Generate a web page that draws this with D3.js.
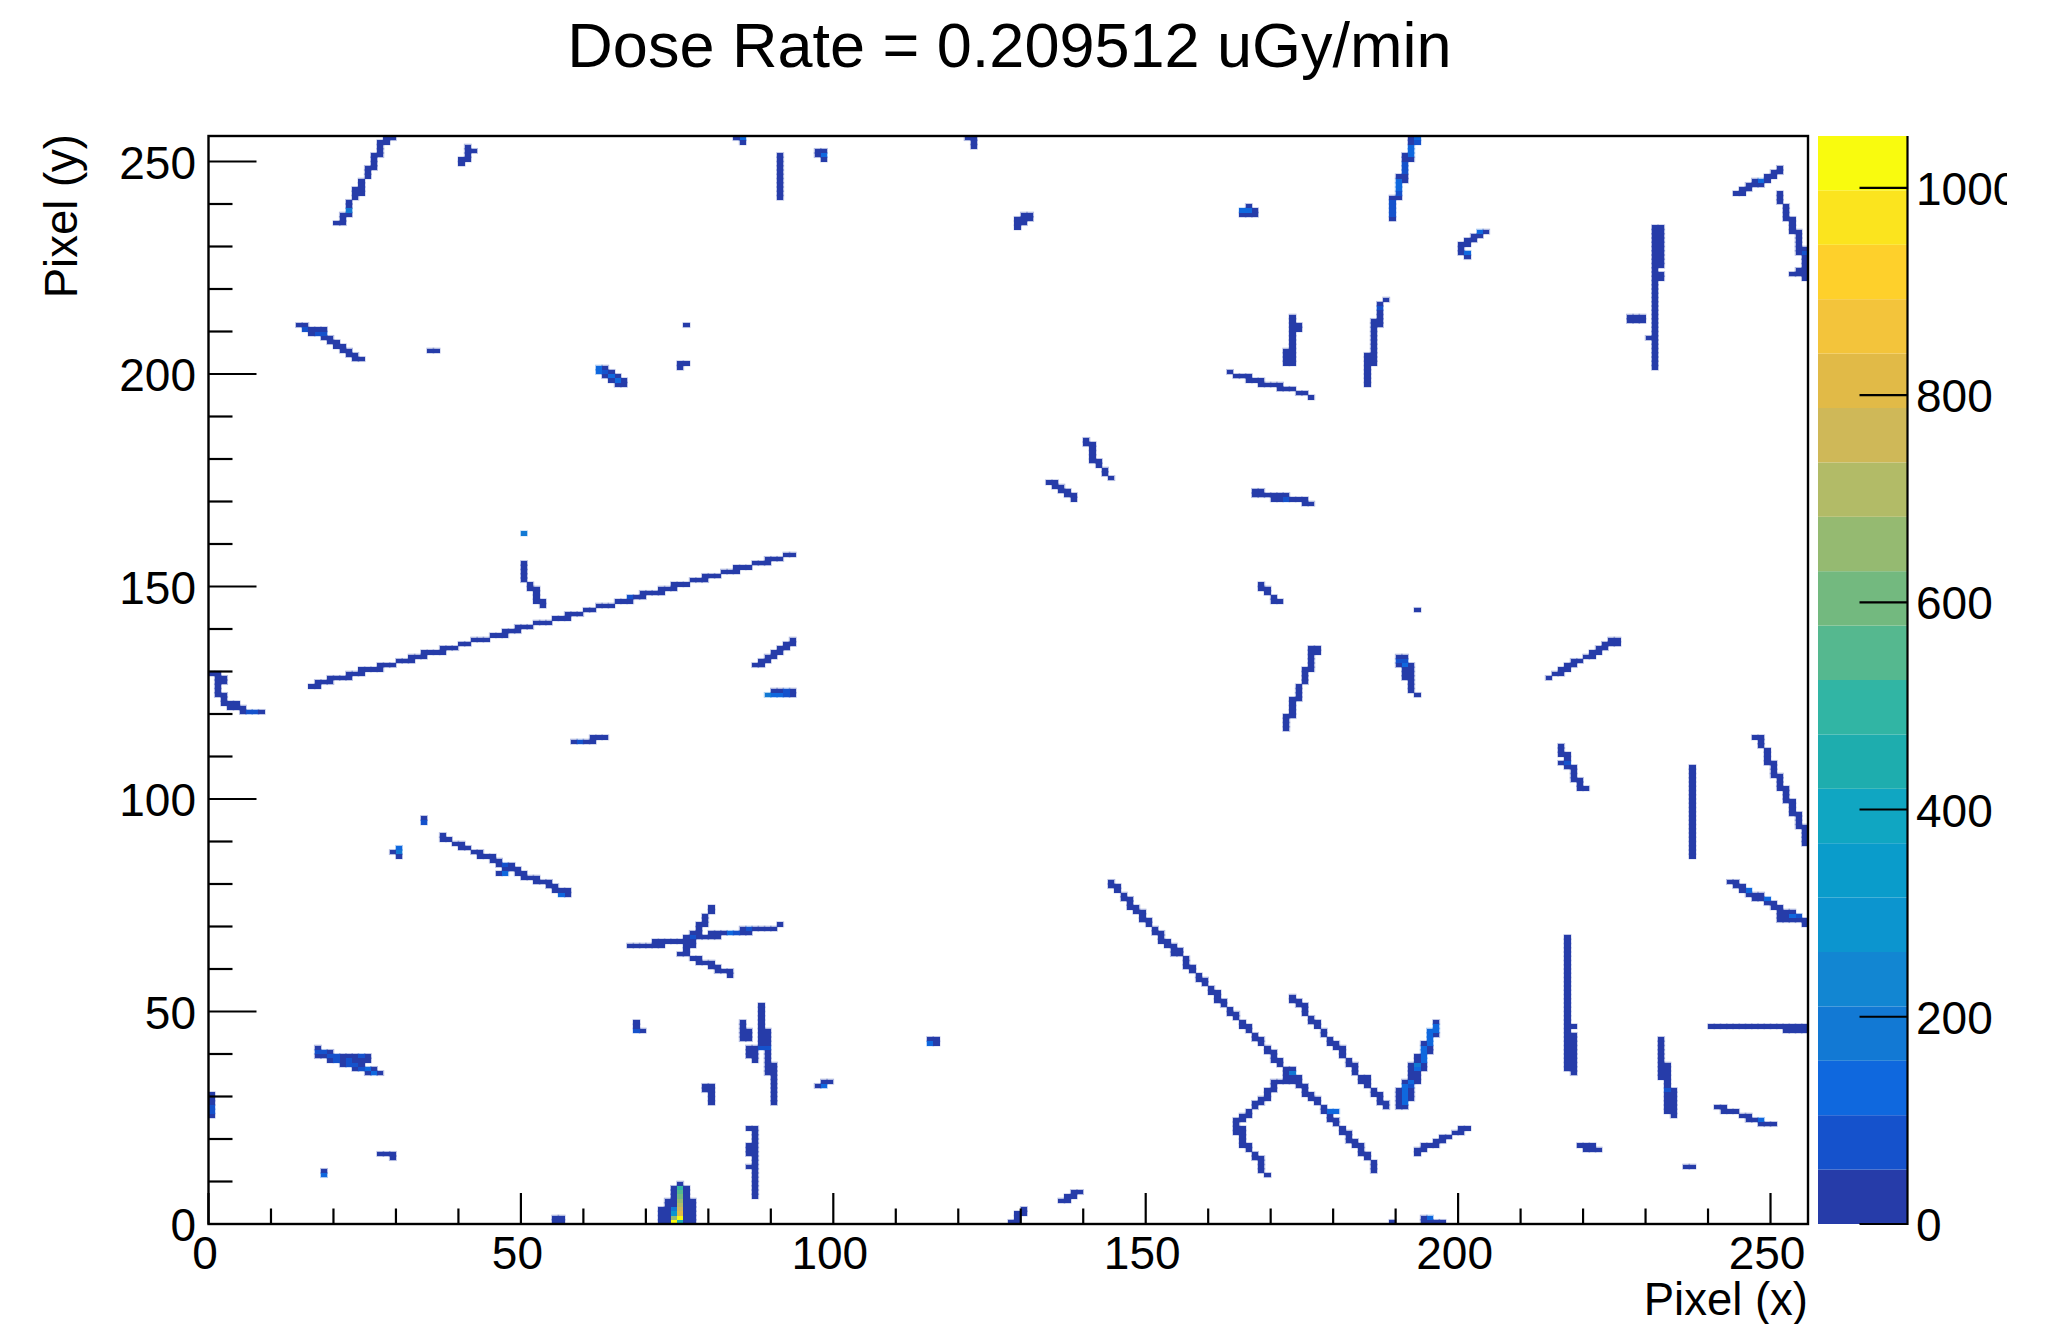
<!DOCTYPE html>
<html><head><meta charset="utf-8">
<style>html,body{margin:0;padding:0;background:#fff}svg{display:block}text{font-family:"Liberation Sans",Arial,sans-serif;fill:#000}</style>
<script src="https://cdn.jsdelivr.net/npm/d3@7"></script></head><body>
<script>
const titleText = "Dose Rate = 0.209512 uGy/min";
const xLabel = "Pixel (x)", yLabel = "Pixel (y)";
const xMajorTicks = [0,50,100,150,200,250];
const yMajorTicks = [0,50,100,150,200,250];
const zTicks = [0,200,400,600,800,1000];
const binCount = 256, zMax = 1050;
const palette = ["#263CA9","#1552CC","#0F68DE","#1279D4","#1286D2","#0C95CF","#0A9CCB","#10A6C2","#1EADAE","#31B5A4","#55B88F","#73B97F","#95BA71","#B2BB67","#CFB858","#E1BA47","#F3C43B","#FED02B","#FBE41E","#F9FB0E"];
const baseValue = 25;
// [row, firstColumn, lastColumn]
const rowRuns = [
[255,28,29],[254,27,28],[251,26,27],[248,25,26],[243,23,24],[242,23,24],[237,21,22],[235,20,21],
[252,41,42],[250,40,41],[255,84,85],[252,97,98],[251,97,98],
[211,14,15],[210,15,18],[209,16,18],[208,18,19],[207,19,20],[206,20,21],[205,21,22],[204,22,23],[203,23,24],
[205,35,36],[202,75,76],[201,62,63],[200,62,64],[199,63,65],[198,64,66],[197,65,66],
[255,121,122],[237,130,131],[236,129,131],[235,129,130],[238,165,167],[237,165,167],
[211,173,174],[210,173,174],[205,172,173],[204,172,173],[203,172,173],[202,172,173],
[199,164,166],[198,166,168],[197,168,171],[196,171,173],[195,174,175],
[183,140,141],[179,141,142],[174,134,135],[173,135,136],[172,136,137],[171,137,138],
[172,167,168],[171,167,172],[170,170,175],[169,175,176],
[255,192,193],[254,192,193],[251,191,192],[250,191,192],[246,190,191],[245,190,191],[241,189,190],
[232,202,203],[231,201,202],[230,200,201],[228,200,201],[233,203,204],
[234,231,232],[233,231,232],[232,231,232],[231,231,232],[230,231,232],[229,231,232],[228,231,232],[227,231,232],[226,231,232],[225,231,232],[223,231,232],[222,231,232],
[213,227,229],[212,227,229],
[247,250,251],[246,249,250],[245,247,249],[244,246,248],[243,245,246],[242,244,245],[223,253,255],[224,254,255],
[212,186,187],[211,186,187],[204,185,186],[203,185,186],[202,185,186],
[126,16,17],[127,17,19],[128,19,22],[129,22,24],[130,24,27],[131,27,29],[132,30,32],[133,32,34],[134,34,37],[135,37,39],
[136,40,41],[137,42,44],[138,45,47],[139,47,49],[140,49,51],[141,52,54],[142,55,57],[143,57,59],[144,60,61],[145,62,64],
[146,65,67],[147,67,69],[148,69,72],[149,72,74],[150,74,76],[151,77,79],[152,79,81],[153,82,84],[154,84,86],[155,87,89],[156,89,91],[157,92,93],
[149,51,52],[146,52,53],
[129,0,1],[128,1,2],[127,1,2],[122,2,4],[121,3,5],[120,5,8],
[137,93,93],[136,92,93],[135,91,92],[134,90,91],[133,89,90],[132,88,89],[131,87,88],
[125,90,93],[124,89,93],[114,61,63],[113,58,61],
[90,37,38],[89,39,40],[88,40,41],[87,42,43],[86,43,45],[85,45,46],[84,46,48],[83,47,49],[82,46,47],[82,49,50],[81,50,52],[80,52,54],[79,54,55],[78,55,57],[77,56,57],
[87,29,30],
[70,78,79],[69,85,90],[68,80,86],[68,77,78],[67,76,81],[66,71,77],[65,67,72],[65,76,77],[63,75,76],[62,77,78],[61,78,80],[60,80,81],[59,81,83],
[45,68,69],
[41,17,17],[40,17,19],[39,17,25],[38,19,25],[37,21,24],[36,23,26],[35,25,27],
[16,27,29],[1,55,56],[0,55,56],
[9,75,75],[8,74,76],[7,74,76],[6,74,76],[5,73,77],[4,73,77],[3,72,77],[2,72,77],[1,72,77],[0,72,77],
[45,85,86],[44,85,86],[43,85,86],[41,86,87],[40,86,87],[39,86,87],
[45,88,89],[44,88,89],[43,88,89],[42,88,89],[37,89,90],[36,89,90],[35,89,90],
[32,79,80],[31,79,80],[33,98,99],[32,97,98],
[150,168,168],[149,168,169],[148,169,169],[147,170,170],[146,170,171],
[135,176,177],[134,176,177],[130,175,176],[123,173,174],[119,172,173],
[133,190,191],[132,190,191],[131,190,192],[130,191,192],[129,191,192],[128,191,192],
[137,224,225],[136,223,225],[135,222,223],[134,221,222],[133,220,221],[132,218,219],[131,217,218],[130,216,217],[129,215,216],
[110,216,217],[108,216,217],[107,217,218],[104,218,219],[102,219,220],
[114,247,248],[108,249,250],[105,250,251],[102,251,252],[99,252,253],[96,253,254],[93,254,255],
[80,243,244],[79,244,245],[78,245,246],[77,246,248],[76,247,249],[75,249,250],[74,250,251],[73,251,253],[72,251,254],[71,251,255],
[46,240,255],[45,252,255],[27,241,242],[26,242,244],[25,245,246],[24,246,248],[23,248,250],
[18,219,221],[17,220,222],[13,236,237],
[36,172,173],[35,172,173],[34,172,174],[33,170,173],[27,178,178],[26,178,180],
[47,196,196],[46,196,196],[45,195,196],[44,195,196],[43,195,195],[42,194,195],[41,194,195],[40,194,195],[39,193,194],[38,193,194],
[37,192,194],[36,192,194],[35,192,193],[34,192,193],[33,191,193],[32,191,192],[31,190,192],[30,190,192],[29,190,192],[28,190,191],[27,190,191],
[22,200,201],[21,199,200],[20,197,198],[19,196,197],[18,194,196],[17,193,194],
[1,194,195],[0,194,197],[0,189,189],
[43,115,116],[42,115,116],
[0,128,129],[2,129,130],[5,136,137],[6,137,138],[7,138,139]
];
// [column, lowestRow, highestRow]
const colRuns = [
[27,252,253],[26,249,250],[25,246,247],[24,244,245],[23,241,241],[22,238,240],[21,236,236],
[41,253,253],[41,251,251],[40,249,249],[85,254,254],[91,241,251],[98,250,250],[76,211,211],[75,201,201],
[122,253,254],[129,234,234],[166,239,239],[173,212,213],[173,206,209],[163,200,200],[176,194,194],
[140,184,184],[141,180,182],[142,178,178],[143,176,177],[144,175,175],[138,170,170],
[192,252,253],[191,247,249],[190,242,244],[189,236,240],[204,233,233],[200,229,229],[201,227,227],
[231,224,224],[231,201,221],[230,208,208],[251,248,248],[251,240,242],[252,236,239],[253,233,236],[254,228,233],[255,222,229],
[188,217,217],[187,213,216],[186,205,210],[185,197,201],
[50,162,162],[50,151,155],[51,150,150],[52,147,148],[53,145,145],
[1,124,126],[2,123,124],
[34,94,95],[30,86,88],[37,91,91],
[80,73,74],[79,71,72],[78,69,69],[76,64,64],[83,58,58],[91,70,70],
[68,46,47],[0,25,30],[29,15,15],[18,11,12],
[85,46,47],[87,38,38],[88,46,51],[89,41,41],[89,37,40],[90,28,34],[80,28,30],[87,6,22],[86,22,22],[86,16,18],[86,13,13],
[192,125,127],[193,124,124],[193,144,144],
[214,128,128],[176,131,133],[175,127,129],[174,124,126],[173,120,122],[172,116,118],
[216,111,112],[217,109,109],[218,104,106],[219,103,103],
[248,112,113],[249,109,111],[250,106,107],[251,103,104],[252,100,101],[253,97,98],[254,94,95],[255,89,92],[237,86,107],
[217,36,67],[218,46,46],[218,35,44],[232,34,43],[233,26,37],[234,25,31],
[255,70,70],
[144,79,80],[145,78,79],[146,76,77],[147,74,76],[148,73,74],[149,71,73],[150,70,71],[151,68,69],[152,66,68],[153,65,66],[154,63,65],[155,63,64],[156,60,62],[157,59,60],[158,57,58],[159,56,57],[160,54,55],[161,52,54],[162,51,52],[163,49,50],[164,48,49],[165,46,47],[166,45,46],[167,43,44],[168,42,43],[169,40,41],[170,38,40],[171,37,38],
[174,33,34],[174,32,32],[175,30,32],[176,29,30],[177,28,29],[179,24,25],[180,23,24],[181,21,22],[182,19,21],[183,18,19],[184,16,18],[185,15,16],[186,12,14],
[173,52,53],[174,51,52],[175,49,51],[176,47,48],[177,46,47],[178,44,45],[179,42,43],[180,41,42],[181,39,41],[182,37,38],[183,35,37],[184,33,34],[185,32,34],[186,30,31],[187,28,30],[188,27,28],
[170,31,33],[169,29,31],[168,28,29],[167,27,28],[166,25,26],[165,24,25],[164,21,24],[165,18,22],[166,17,18],[167,15,16],[168,12,15],[169,11,11],
[193,16,16],[129,1,1],[130,3,3]
];
// [column, row, value] for cells above the lowest colour band
const brightCells = [
[22,238,180],[85,255,130],[98,251,130],[15,210,80],[17,209,80],[18,209,80],[62,201,130],[62,200,130],[63,200,80],[64,199,130],[65,198,130],
[165,238,130],[166,238,130],[172,170,80],
[193,255,130],[193,254,80],[192,253,130],[192,252,130],[192,251,130],[191,249,80],[191,248,80],[191,247,80],[190,245,130],[190,244,130],[190,243,130],[190,242,80],[189,240,80],[189,239,80],[189,238,80],[189,237,80],
[203,233,130],[201,228,130],[248,245,130],[255,228,80],[187,215,80],
[50,162,180],[67,147,80],[6,120,80],[7,120,80],[92,125,80],[89,124,180],[90,124,130],[91,124,130],[92,124,80],[59,113,80],
[34,94,80],[30,88,130],[30,87,180],[47,84,80],[47,82,130],[56,77,130],
[77,67,80],[83,68,130],[84,68,80],[86,69,80],[68,45,80],
[17,40,80],[18,40,80],[19,39,80],[20,39,80],[24,39,80],[20,38,80],[22,38,80],[22,37,80],[23,37,80],[24,36,80],[25,36,130],[26,35,130],
[0,26,80],[0,27,80],[18,11,130],[88,41,80],[89,41,80],
[75,8,490],[75,7,550],[75,6,600],[75,5,650],[75,4,700],[75,3,740],[75,2,800],[75,1,1040],[75,0,470],[74,3,180],[74,2,280],[74,1,640],[74,0,1040],
[98,32,130],[190,132,80],[191,132,80],[191,131,130],[217,108,80],
[173,35,180],[179,26,130],[180,26,130],
[196,46,130],[196,45,130],[195,45,130],[195,44,130],[195,43,130],[195,42,130],[194,41,130],[194,40,130],[194,39,130],[194,38,130],[193,37,180],[193,36,130],[192,33,130],[191,32,130],[192,32,80],[191,31,130],[191,30,130],[191,29,130],[191,28,130],
[195,1,130],[233,31,80],[246,78,130],[249,76,130],[253,72,130],[254,72,80],[248,24,130],[115,42,130]
];

const W = 2064, H = 1324;
const plot = {l:208.5, r:1808, t:136, b:1224};
const bar = {l:1818, r:1907.5};
const x = d3.scaleLinear().domain([0,binCount]).range([plot.l,plot.r]);
const y = d3.scaleLinear().domain([0,binCount]).range([plot.b,plot.t]);
const z = d3.scaleLinear().domain([0,zMax]).range([plot.b,plot.t]);
const colour = d3.scaleQuantize().domain([0,zMax]).range(palette);

const cells = new Map();
const put = (c,r,v) => cells.set(c+":"+r,{c,r,v});
rowRuns.forEach(([r,a,b]) => d3.range(a,b+1).forEach(c => put(c,r,baseValue)));
colRuns.forEach(([c,a,b]) => d3.range(a,b+1).forEach(r => put(c,r,baseValue)));
brightCells.forEach(([c,r,v]) => put(c,r,v));
const cellList = [...cells.values()];

const svg = d3.select("body").append("svg").attr("width",W).attr("height",H);
svg.append("rect").attr("width",W).attr("height",H).attr("fill","#fff");
const defs = svg.append("defs");
defs.append("clipPath").attr("id","pageClip").append("rect").attr("width",2007).attr("height",H);
defs.append("clipPath").attr("id","plotClip").append("rect").attr("x",plot.l).attr("y",plot.t).attr("width",plot.r-plot.l).attr("height",plot.b-plot.t);

// soft pale edge of the resampled cells, then the cells
const cellLayer = svg.append("g").attr("clip-path","url(#plotClip)");
cellLayer.append("g").selectAll("rect").data(cellList).join("rect")
  .attr("x",d=>x(d.c)).attr("y",d=>y(d.r+1))
  .attr("width",d=>x(d.c+1)-x(d.c)).attr("height",d=>y(d.r)-y(d.r+1))
  .attr("fill","none").attr("stroke",d=>colour(d.v)).attr("stroke-opacity",0.35).attr("stroke-width",1.6);
cellLayer.append("g").selectAll("rect").data(cellList).join("rect")
  .attr("x",d=>x(d.c)).attr("y",d=>y(d.r+1))
  .attr("width",d=>x(d.c+1)-x(d.c)).attr("height",d=>y(d.r)-y(d.r+1))
  .attr("fill",d=>colour(d.v)).attr("shape-rendering","crispEdges");

// colour bar
const step = zMax/palette.length;
svg.append("g").selectAll("rect").data(palette).join("rect")
  .attr("x",bar.l).attr("width",bar.r-bar.l)
  .attr("y",(d,i)=>z((i+1)*step)).attr("height",(d,i)=>z(i*step)-z((i+1)*step))
  .attr("fill",d=>d);

// frame
svg.append("rect").attr("x",plot.l).attr("y",plot.t).attr("width",plot.r-plot.l).attr("height",plot.b-plot.t)
  .attr("fill","none").attr("stroke","#000").attr("stroke-width",2.4);

const tickStroke = 2.2;
const minorY = d3.range(0,251,10);
const minorX = d3.range(0,251,10);
const ticks = svg.append("g").attr("stroke","#000").attr("stroke-width",tickStroke);
ticks.selectAll(".ym").data(minorY).join("line")
  .attr("x1",plot.l).attr("y1",d=>y(d)).attr("y2",d=>y(d))
  .attr("x2",d=>plot.l+(yMajorTicks.includes(d)?48:24));
ticks.selectAll(".xm").data(minorX).join("line")
  .attr("y1",plot.b).attr("x1",d=>x(d)).attr("x2",d=>x(d))
  .attr("y2",d=>plot.b-(xMajorTicks.includes(d)?31:15.5));
ticks.selectAll(".zt").data(zTicks).join("line")
  .attr("x1",bar.r).attr("x2",bar.r-48).attr("y1",d=>z(d)).attr("y2",d=>z(d));
ticks.append("line").attr("x1",bar.r).attr("x2",bar.r).attr("y1",plot.t).attr("y2",plot.b+1);

const labels = svg.append("g").attr("font-size",46);
labels.selectAll(".xl").data(xMajorTicks).join("text")
  .attr("x",d=>x(d)-3.5).attr("y",plot.b+45).attr("text-anchor","middle").text(d=>d);
labels.selectAll(".yl").data(yMajorTicks).join("text")
  .attr("x",196).attr("y",d=>y(d)+17).attr("text-anchor","end").text(d=>d);
labels.append("g").attr("clip-path","url(#pageClip)").selectAll("text").data(zTicks).join("text")
  .attr("x",1916).attr("y",d=>z(d)+17).text(d=>d);

svg.append("text").attr("x",1808).attr("y",1315).attr("text-anchor","end").attr("font-size",45.5).text(xLabel);
svg.append("text").attr("transform","translate(77,134) rotate(-90)").attr("text-anchor","end").attr("font-size",45.5).text(yLabel);
svg.append("text").attr("x",1009.5).attr("y",67).attr("text-anchor","middle").attr("font-size",63).text(titleText);
</script></body></html>
